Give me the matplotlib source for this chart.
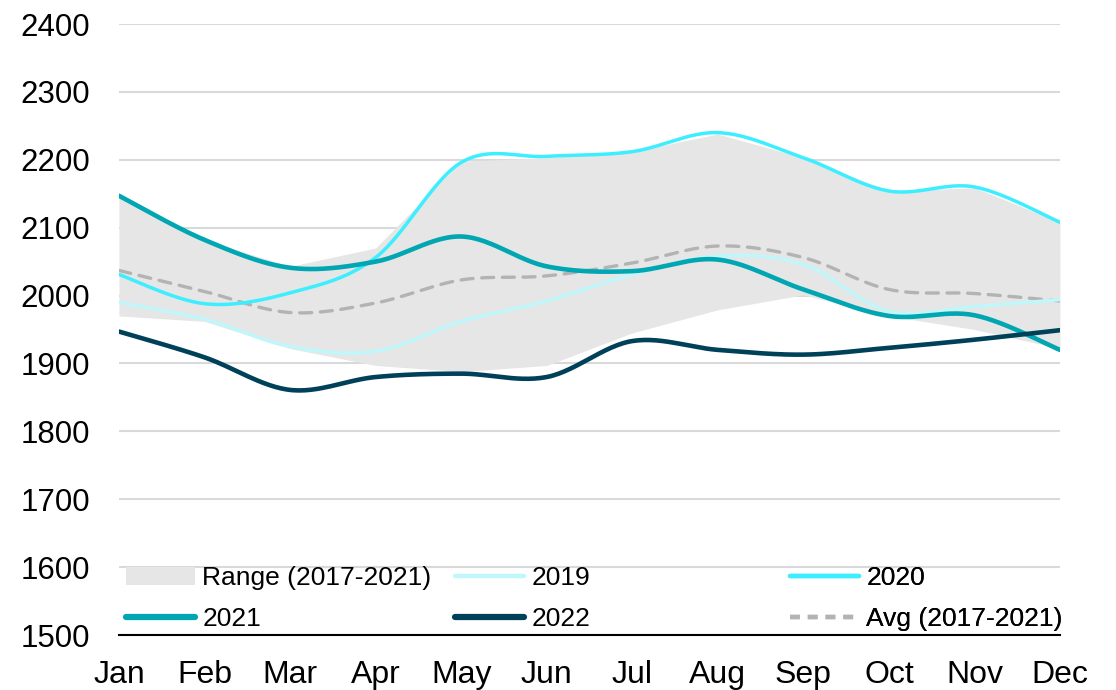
"""
Monthly values 2019-2022 against the 2017-2021 range and average.
Smoothed lines mimic the spreadsheet look of the original chart.
"""

import matplotlib
matplotlib.use("Agg")
import matplotlib.pyplot as plt
import numpy as np
from matplotlib.patches import Patch
from matplotlib.lines import Line2D

plt.rcParams["font.family"] = ["Liberation Sans", "DejaVu Sans"]

months = ["Jan", "Feb", "Mar", "Apr", "May", "Jun",
          "Jul", "Aug", "Sep", "Oct", "Nov", "Dec"]

range_low = [1970, 1962, 1922, 1897, 1888, 1897, 1945, 1979, 2001, 1970, 1950, 1922]
range_high = [2147, 2082, 2043, 2070, 2198, 2203, 2212, 2238, 2203, 2154, 2159, 2108]
y2019 = [1990, 1965, 1925, 1918, 1962, 1992, 2031, 2058, 2046, 1977, 1984, 1994]
y2020 = [2031, 1988, 2004, 2056, 2196, 2205, 2212, 2240, 2203, 2154, 2160, 2108]
y2021 = [2147, 2082, 2041, 2050, 2087, 2043, 2036, 2053, 2009, 1970, 1971, 1920]
y2022 = [1947, 1909, 1861, 1880, 1885, 1880, 1933, 1920, 1913, 1923, 1935, 1949]
avg = [2037, 2006, 1975, 1989, 2023, 2029, 2048, 2073, 2056, 2009, 2003, 1992]

C_RANGE = "#e6e6e6"
C_2019 = "#bff7fb"
C_2020 = "#3deeff"
C_2021 = "#00a6b2"
C_2022 = "#00415a"
C_AVG = "#b3b3b3"


def smooth(y, steps=30):
    """Excel-style smoothing: cubic bezier with Catmull-Rom control points."""
    y = np.asarray(y, dtype=float)
    x = np.arange(len(y), dtype=float)
    pts = np.column_stack([x, y])
    padded = np.vstack([pts[0], pts, pts[-1]])
    out = []
    t = np.linspace(0, 1, steps)[:, None]
    for i in range(len(pts) - 1):
        p0, p1, p2, p3 = padded[i], padded[i + 1], padded[i + 2], padded[i + 3]
        c1 = p1 + (p2 - p0) / 6
        c2 = p2 - (p3 - p1) / 6
        seg = ((1 - t) ** 3) * p1 + 3 * ((1 - t) ** 2) * t * c1 \
            + 3 * (1 - t) * t ** 2 * c2 + t ** 3 * p2
        out.append(seg if i == 0 else seg[1:])
    out = np.vstack(out)
    return out[:, 0], out[:, 1]


fig = plt.figure(figsize=(11.16, 6.9), dpi=100)
ax = fig.add_axes([0.1066, 0.0797, 0.8432, 0.8855])

x = np.arange(len(months))
ax.fill_between(x, range_low, range_high, color=C_RANGE, lw=0, zorder=1)

series = [
    (y2019, C_2019, 2.5),
    (y2020, C_2020, 2.5),
    (y2021, C_2021, 3.3),
    (y2022, C_2022, 3.3),
]
for vals, col, lw in series:
    sx, sy = smooth(vals)
    ax.plot(sx, sy, color=col, lw=lw, zorder=3, solid_capstyle="round")

sx, sy = smooth(avg)
ax.plot(sx, sy, color=C_AVG, lw=2.4, ls=(0, (3.6, 2.6)), zorder=2,
        dash_capstyle="round")

ax.set_xlim(0, 11)
ax.set_ylim(1500, 2400)
ax.set_yticks(np.arange(1500, 2401, 100))
ax.set_xticks(x)
ax.set_xticklabels(months)
ax.tick_params(axis="both", length=0, colors="black")
ax.tick_params(axis="y", pad=21, labelsize=22.5)
ax.tick_params(axis="x", pad=18, labelsize=23)
ax.grid(axis="y", color="#d9d9d9", lw=1.5, zorder=0)
ax.set_axisbelow(True)
for side in ["left", "right", "top"]:
    ax.spines[side].set_visible(False)
ax.spines["bottom"].set_color("black")
ax.spines["bottom"].set_linewidth(1.5)

# legend: three columns at fixed positions, two entries each
h_range = Patch(facecolor=C_RANGE, edgecolor="none")
h_2019 = Line2D([], [], color=C_2019, lw=3.2, solid_capstyle="round")
h_2020 = Line2D([], [], color=C_2020, lw=3.2, solid_capstyle="round")
h_2021 = Line2D([], [], color=C_2021, lw=4.5, solid_capstyle="round")
h_2022 = Line2D([], [], color=C_2022, lw=4.5, solid_capstyle="round")
h_avg = Line2D([], [], color=C_AVG, lw=3.2, ls=(0, (2.2, 1.8)))

columns = [
    ([h_range, h_2021], ["Range (2017-2021)", "2021"], 0.0074),
    ([h_2019, h_2022], ["2019", "2022"], 0.357),
    ([h_2020, h_avg], ["2020", "Avg (2017-2021)"], 0.713),
]
for hs, ls, x0 in columns:
    leg = ax.legend(hs, ls, loc="lower left", bbox_to_anchor=(x0, 0.006),
                    frameon=False, fontsize=19, handlelength=2.6,
                    handletextpad=0.3, labelspacing=0.65,
                    borderaxespad=0.0, borderpad=0.0)
    ax.add_artist(leg)

fig.savefig("out.png", dpi=100)
